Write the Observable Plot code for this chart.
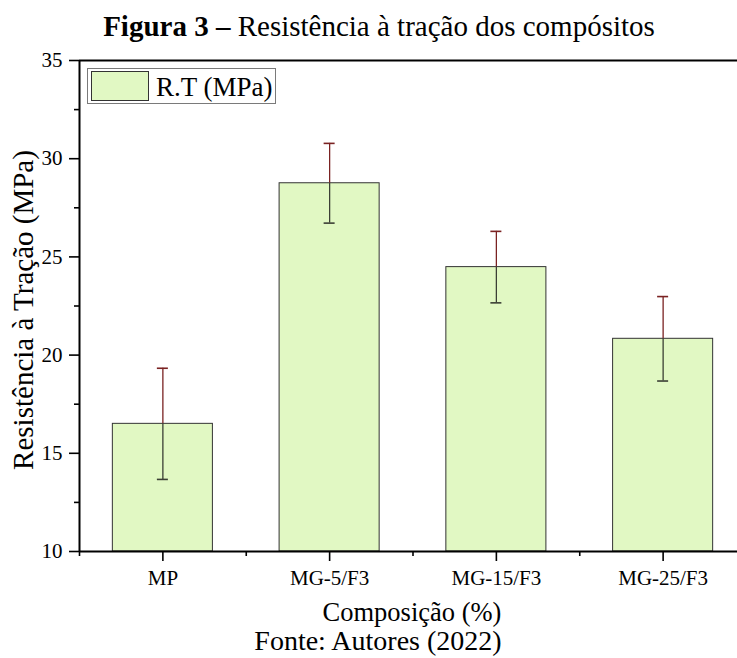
<!DOCTYPE html>
<html><head><meta charset="utf-8">
<script src="https://cdn.jsdelivr.net/npm/d3@7"></script>
<script src="https://cdn.jsdelivr.net/npm/@observablehq/plot@0.6"></script>
<style>
html,body{margin:0;padding:0;background:#fff;overflow:hidden}
#wrap{position:relative;width:737px;height:658px;overflow:hidden;font-family:"Liberation Serif","Times New Roman",serif;color:#000}
.t{position:absolute;white-space:nowrap;line-height:0;height:0}
#wrap svg{position:absolute;left:0;top:0}
</style></head><body><div id="wrap"></div>
<script>
const categories = ["MP", "MG-5/F3", "MG-15/F3", "MG-25/F3"];
const values = [16.5, 28.75, 24.48, 20.83];
const errors = [2.83, 2.03, 1.82, 2.15];
const yTicks = [10, 15, 20, 25, 30, 35];
const yMinorTicks = [12.5, 17.5, 22.5, 27.5, 32.5];
const titleBold = "Figura 3 –";
const titleRest = " Resistência à tração dos compósitos";
const xLabel = "Composição (%)";
const yLabel = "Resistência à Tração (MPa)";
const legendLabel = "R.T (MPa)";
const caption = "Fonte: Autores (2022)";

const data = categories.map((c, i) => ({pos: i + 1, name: c, value: values[i], err: errors[i]}));
const W = 737, H = 658, L = 79, T = 60, B = 551, STEP = 166.75;
const half = 0.3, cap = 0.033;
const fill = "#e1f8c3", red = "#7a2222", dark = "#3b3f35";

const plot = Plot.plot({
  width: W, height: H, marginLeft: L, marginTop: T, marginBottom: H - B, marginRight: 0,
  style: {fontFamily: '"Liberation Serif","Times New Roman",serif', fontSize: "21px", color: "#000", background: "transparent"},
  x: {type: "linear", domain: [0.5, 4.5], range: [L, L + 4 * STEP], label: null},
  y: {domain: [10, 35], range: [B, T], label: null},
  marks: [
    Plot.rectY(data, {x1: d => d.pos - half, x2: d => d.pos + half, y1: 10, y2: "value", fill, stroke: "#333", strokeWidth: 1}),
    Plot.ruleX(data, {x: "pos", y1: "value", y2: d => d.value + d.err, stroke: red, strokeWidth: 1.3}),
    Plot.ruleX(data, {x: "pos", y1: d => d.value - d.err, y2: "value", stroke: dark, strokeWidth: 1.3}),
    Plot.ruleY(data, {y: d => d.value + d.err, x1: d => d.pos - cap, x2: d => d.pos + cap, stroke: red, strokeWidth: 1.6}),
    Plot.ruleY(data, {y: d => d.value - d.err, x1: d => d.pos - cap, x2: d => d.pos + cap, stroke: dark, strokeWidth: 1.6}),
    Plot.ruleY([35, 10], {stroke: "#000", strokeWidth: 2}),
    Plot.ruleX([0.5], {y1: 10, y2: 35, stroke: "#000", strokeWidth: 2}),
    Plot.axisY({ticks: yTicks, tickSize: 10, tickPadding: 7, strokeWidth: 1.6, label: null, fontSize: 21}),
    Plot.axisY({ticks: yMinorTicks, tickSize: 5, tickFormat: () => "", strokeWidth: 1.6, label: null}),
    Plot.axisX({ticks: [1, 2, 3, 4], tickFormat: i => categories[i - 1], tickSize: 10, tickPadding: 9, strokeWidth: 1.6, label: null, fontSize: 21}),
    Plot.axisX({ticks: [0.5, 1.5, 2.5, 3.5], tickSize: 5, tickFormat: () => "", strokeWidth: 1.6, label: null})
  ]
});

const wrap = document.getElementById("wrap");
wrap.appendChild(plot);

function addText(html, css) {
  const d = document.createElement("div");
  d.className = "t";
  d.innerHTML = html;
  Object.assign(d.style, css);
  wrap.appendChild(d);
  return d;
}
// title: centered at x≈379, baseline ≈36
addText(`<b>${titleBold}</b>${titleRest}`, {left: "0px", width: "758px", textAlign: "center", top: (36 - 0.3375 * 29) + "px", fontSize: "29px"});
// x label
addText(xLabel, {left: "0px", width: (2 * 412) + "px", textAlign: "center", top: (621 - 0.3375 * 26.5) + "px", fontSize: "26.5px"});
// caption
addText(caption, {left: "0px", width: "756px", textAlign: "center", top: (650 - 0.3375 * 28) + "px", fontSize: "28px"});

// y label rotated
const yl = document.createElement("div");
yl.textContent = yLabel;
Object.assign(yl.style, {position: "absolute", left: "23px", top: "310px", whiteSpace: "nowrap", lineHeight: "1", fontSize: "29px", transform: "translate(-50%,-50%) rotate(-90deg)"});
wrap.appendChild(yl);

// legend
const box = document.createElement("div");
Object.assign(box.style, {position: "absolute", left: "87px", top: "68px", width: "189px", height: "36px", border: "1px solid #7a7a7a", boxSizing: "border-box", background: "#fff"});
wrap.appendChild(box);
const sw = document.createElement("div");
Object.assign(sw.style, {position: "absolute", left: "91px", top: "71px", width: "58px", height: "30px", border: "1px solid #333", boxSizing: "border-box", background: fill});
wrap.appendChild(sw);
addText(legendLabel, {left: "156px", top: (96 - 0.3375 * 27) + "px", fontSize: "27px"});
</script></body></html>
